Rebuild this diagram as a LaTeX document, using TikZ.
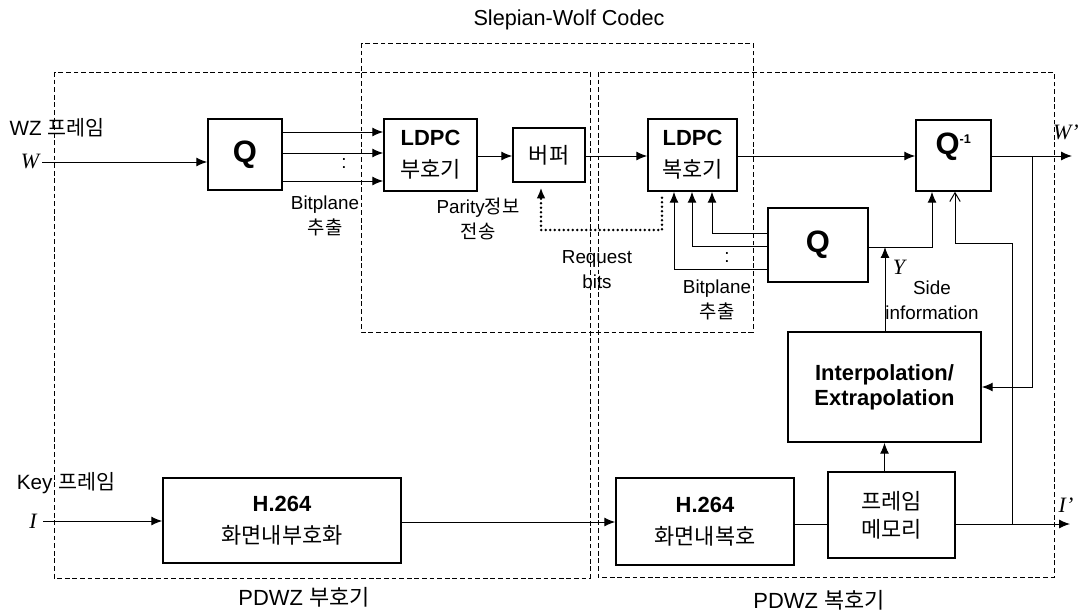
\documentclass[tikz,border=0pt]{standalone}
\usepackage{fontspec}
\setmainfont{Liberation Sans}
\newfontfamily\kr{Noto Sans CJK KR}
\newfontfamily\tms{Liberation Serif}
\usetikzlibrary{arrows.meta}

\newcommand\ko[1]{{\kr\mdseries #1}}

\tikzset{
  blk/.style 2 args={draw, line width=1.1pt, minimum width=#1*0.25mm,
    minimum height=#2*0.25mm, inner sep=0pt, align=center},
  bx/.style={font=\fontsize{15.6}{22.8}\selectfont\bfseries},
  qtxt/.style={font=\fontsize{22}{26}\selectfont\bfseries},
  lbl/.style={align=center, inner sep=0pt, font=\fontsize{13.4}{17.8}\selectfont},
  ttl/.style={inner sep=0pt, font=\fontsize{15.6}{18}\selectfont},
  sym/.style={inner sep=0pt, font=\fontsize{15.6}{18}\selectfont\tms\itshape},
  grp/.style={draw, line width=0.5pt, dash pattern=on 1.2mm off 0.7mm},
  wire/.style={line width=0.7pt},
  req/.style={line width=2pt, dash pattern=on 0pt off 3.2pt, line cap=round},
}

\begin{document}
\begin{tikzpicture}[x=0.25mm, y=-0.25mm, >={Latex[length=2.7mm,width=2.2mm]}]
    \useasboundingbox (0,0) rectangle (1086,613);

    % dashed groups
    \draw[grp] (361,43) rectangle (753,332);
    \draw[grp] (54,72) rectangle (590,578);
    \draw[grp] (598,72) rectangle (1054,577);
    \node[ttl, font=\fontsize{15.4}{18}\selectfont] (swc) at (569,20) {Slepian-Wolf Codec};
    \node[ttl] (pdwze) at (304,597) {PDWZ \ko{부호기}};
    \node[ttl] (pdwzd) at (819,600) {PDWZ \ko{복호기}};

    % blocks
    \node[blk={74}{71}, qtxt] (qe) at (245,154.5) {Q};
    \node[blk={93}{72}, bx] (ldpce) at (430.5,155) {LDPC\\\ko{부호기}};
    \node[blk={72}{54}, bx] (buf) at (549,155) {\ko{버퍼}};
    \node[blk={89}{72}, bx] (ldpcd) at (692.5,155) {LDPC\\\ko{복호기}};
    \node[blk={75}{71}, qtxt] (qinv) at (953.5,155.5)
        {\raisebox{6mm}{Q\textsuperscript{\fontsize{9}{9}\selectfont -1}}};
    \node[blk={100}{74}, qtxt] (qd) at (818,245) {Q};
    \node[blk={193}{110}, bx] (interp) at (884.5,387) {Interpolation/\\[-5pt]Extrapolation};
    \node[blk={127}{86}, bx] (fmem) at (891.5,515) {\ko{프레임}\\[-2.8pt]\ko{메모리}};
    \node[blk={178}{87}, bx] (h264d) at (705,521.5) {H.264\\\ko{화면내복호}};
    \node[blk={238}{85}, bx] (h264e) at (282,520.5) {H.264\\\ko{화면내부호화}};

    % WZ frame path
    \node[ttl, font=\fontsize{14.7}{18}\selectfont] (wzf) at (57,128) {WZ \ko{프레임}};
    \node[sym] (wlab) at (30,161) {W};
    \coordinate (win) at (42,162);
    \draw[wire,->] (win) -- (qe.west |- win);
    \draw[wire,->] (qe.east |- 0,132) -- (ldpce.west |- 0,132);
    \draw[wire,->] (qe.east |- 0,153) -- (ldpce.west |- 0,153);
    \draw[wire,->] (qe.east |- 0,181) -- (ldpce.west |- 0,181);
    \node[lbl] (dots1) at (344,164) {:};
    \node[lbl] (bpe) at (325,216) {Bitplane\\\ko{추출}};
    \draw[wire,->] (ldpce.east |- 0,156) -- (buf.west |- 0,156);
    \node[lbl] (par) at (478,219) {Parity\ko{정보}\\\ko{전송}};
    \draw[wire,->] (buf.east |- 0,156) -- (ldpcd.west |- 0,156);
    \draw[wire,->] (ldpcd.east |- 0,156) -- (qinv.west |- 0,156);
    \coordinate (wout) at (1072,156);
    \draw[wire,->] (qinv.east |- wout) -- (wout);
    \node[sym] (wpr) at (1066,132) {W’};

    % request bits
    \coordinate (rq) at (662,230);
    \draw[req,->] ([yshift=-1.5mm]ldpcd.south -| rq) -- (rq) -- (rq -| 541,0)
        -- ([yshift=-1.2mm]buf.south -| 541,0);
    \node[lbl] (reqb) at (597,270) {Request\\bits};

    % side information path
    \draw[wire,->] (qd.west |- 0,233) -| (ldpcd.south -| 712,0);
    \draw[wire,->] (qd.west |- 0,246) -| (ldpcd.south -| 692,0);
    \draw[wire,->] (qd.west |- 0,269) -| (ldpcd.south -| 674,0);
    \node[lbl] (dots2) at (727,258) {:};
    \node[lbl] (bpd) at (717,300) {Bitplane\\\ko{추출}};
    \coordinate (yj) at (885,247);
    \draw[wire,->] (qd.east |- yj) -| (qinv.south -| 932,0);
    \draw[wire,->] (interp.north -| yj) -- (yj);
    \node[sym] (ylab) at (899,267) {Y};
    \node[lbl] (side) at (932,300) {Side\\information};
    \coordinate (wb) at (1032,156);
    \draw[wire,->] (wb) |- (interp.east);

    % key frame path
    \node[ttl, font=\fontsize{14.7}{18}\selectfont] (keyf) at (66,483) {Key \ko{프레임}};
    \node[sym] (ilab) at (33,521) {I};
    \coordinate (iin) at (43,521);
    \draw[wire,->] (iin) -- (h264e.west |- iin);
    \draw[wire,->] (h264e.east |- 0,522) -- (h264d.west |- 0,522);
    \draw[wire] (h264d.east |- 0,524) -- (fmem.west |- 0,524);
    \coordinate (iout) at (1070,524);
    \draw[wire,->] (fmem.east |- iout) -- (iout);
    \node[sym] (ipr) at (1066,505) {I’};
    \draw[wire,->] (interp.south |- fmem.north) -- (interp.south);
    \coordinate (ib) at (1012,524);
    \draw[wire,-{Straight Barb[length=2.2mm,width=2.6mm]}] (ib) -- (ib |- 0,243)
        -| (qinv.south -| 955,0);
\end{tikzpicture}
\end{document}
